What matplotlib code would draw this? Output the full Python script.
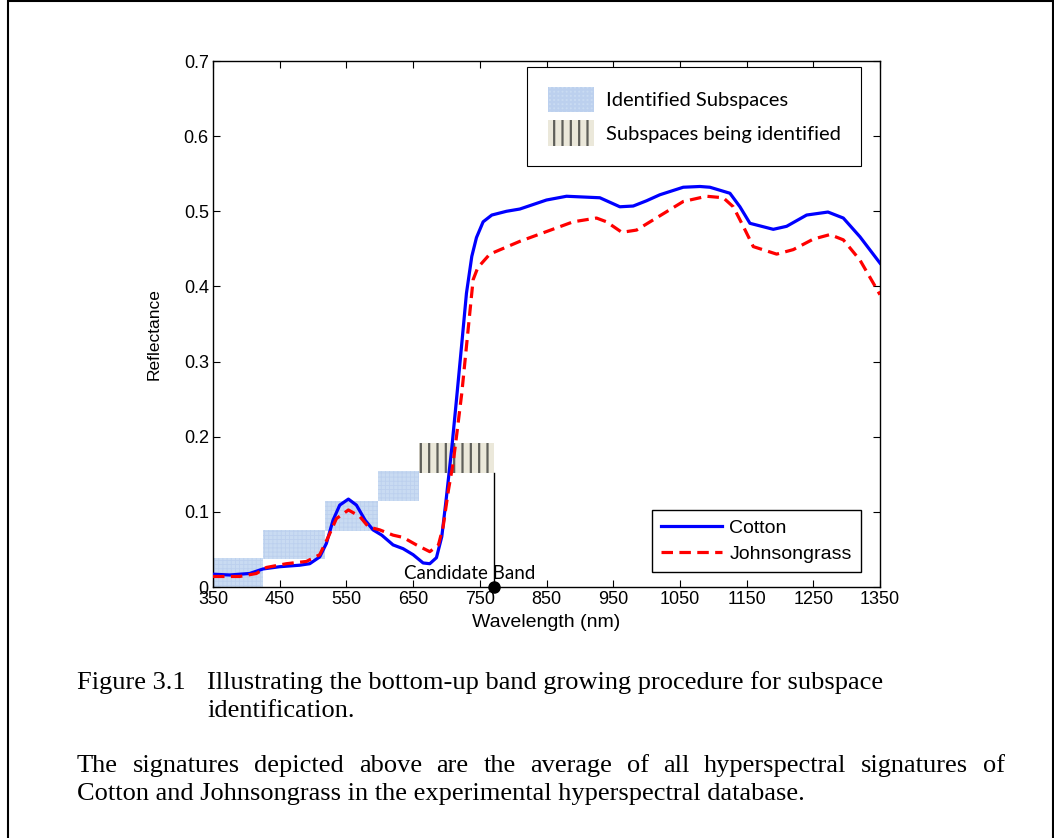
import matplotlib
matplotlib.use("Agg")
import matplotlib.pyplot as plt
from matplotlib.patches import Rectangle
import numpy as np

# spectral signatures
cotton_nm = [350, 375, 405, 425, 450, 480, 495, 510, 520, 530, 540, 553, 565, 578, 590,
             603, 620, 635, 650, 665, 675, 685, 693, 700, 708, 715, 723, 730, 738, 745,
             755, 768, 790, 810, 820, 850, 880, 930, 960, 980, 1000, 1020, 1055, 1080,
             1095, 1125, 1140, 1155, 1190, 1210, 1240, 1272, 1295, 1320, 1350]
cotton = [0.017, 0.016, 0.018, 0.024, 0.027, 0.029, 0.031, 0.040, 0.058, 0.089, 0.109,
          0.117, 0.109, 0.089, 0.076, 0.069, 0.056, 0.051, 0.043, 0.032, 0.031, 0.039,
          0.067, 0.120, 0.185, 0.249, 0.324, 0.391, 0.440, 0.465, 0.486, 0.495, 0.500,
          0.503, 0.506, 0.515, 0.520, 0.518, 0.506, 0.507, 0.514, 0.522, 0.532, 0.533,
          0.532, 0.524, 0.506, 0.484, 0.476, 0.480, 0.495, 0.499, 0.491, 0.466, 0.431]

johnson_nm = [350, 390, 415, 430, 460, 490, 510, 523, 535, 553, 570, 583, 600, 620, 635,
              655, 675, 688, 695, 703, 710, 715, 723, 733, 740, 747, 753, 765, 810, 850,
              890, 925, 940, 963, 985, 1020, 1055, 1090, 1115, 1130, 1145, 1160, 1195,
              1220, 1250, 1275, 1295, 1320, 1350]
johnson = [0.014, 0.014, 0.018, 0.026, 0.031, 0.034, 0.043, 0.067, 0.091, 0.1025, 0.094,
           0.080, 0.076, 0.069, 0.066, 0.056, 0.047, 0.056, 0.080, 0.129, 0.165, 0.200,
           0.258, 0.347, 0.409, 0.425, 0.431, 0.443, 0.460, 0.473, 0.486, 0.491, 0.486,
           0.472, 0.475, 0.494, 0.513, 0.520, 0.518, 0.506, 0.480, 0.453, 0.443, 0.449,
           0.463, 0.469, 0.462, 0.435, 0.389]

# subspaces: (start nm, end nm, low, high)
identified = [(350, 425, 0.0, 0.039), (425, 518, 0.037, 0.076),
              (518, 597, 0.075, 0.115), (597, 659, 0.115, 0.154)]
being_identified = (659, 772, 0.152, 0.191)
candidate_nm = 772

xticks = list(range(350, 1351, 100))
yticks = [0, 0.1, 0.2, 0.3, 0.4, 0.5, 0.6, 0.7]
ytick_labels = ["0", "0.1", "0.2", "0.3", "0.4", "0.5", "0.6", "0.7"]

fig_label = "Figure 3.1"
caption1 = "Illustrating the bottom-up band growing procedure for subspace"
caption2 = "identification."
para1 = "The signatures depicted above are the average of all hyperspectral signatures of"
para2 = "Cotton and Johnsongrass in the experimental hyperspectral database."

plt.rcParams["font.family"] = ["Liberation Sans", "DejaVu Sans"]
plt.rcParams["hatch.linewidth"] = 1.6

W, H = 1054, 838
fig = plt.figure(figsize=(W / 100, H / 100), dpi=100)
ax = fig.add_axes([213 / W, 1 - 587 / H, 667 / W, 526 / H])

blue_fc = "#c9dbf2"
blue_hc = "#bcd0ee"
stripe_fc = "#ebe8da"
stripe_hc = "#5f5f5a"


def blue_patch(xy, w, h, **kw):
    p = Rectangle(xy, w, h, facecolor=blue_fc, edgecolor=blue_hc, hatch="++++", lw=0, **kw)
    if hasattr(p, "set_hatch_linewidth"):
        p.set_hatch_linewidth(0.6)
    return p


def stripe_patch(xy, w, h, **kw):
    p = Rectangle(xy, w, h, facecolor=stripe_fc, edgecolor=stripe_hc, hatch="||", lw=0, **kw)
    if hasattr(p, "set_hatch_linewidth"):
        p.set_hatch_linewidth(1.6)
    return p


for x0, x1, y0, y1 in identified:
    ax.add_patch(blue_patch((x0, y0), x1 - x0, y1 - y0, zorder=1))
x0, x1, y0, y1 = being_identified
ax.add_patch(stripe_patch((x0, y0), x1 - x0, y1 - y0, zorder=1))

ax.plot([candidate_nm, candidate_nm], [0, y0], color="black", lw=1, zorder=2)
ax.plot([candidate_nm], [0], "o", color="black", ms=8, clip_on=False, zorder=5)
ax.text(735, 0.011, "Candidate Band", family=["Lato", "DejaVu Sans"], fontsize=13.5,
        ha="center", va="baseline", zorder=4)

l1, = ax.plot(cotton_nm, cotton, color="#0000ff", lw=2.3, zorder=3)
l2, = ax.plot(johnson_nm, johnson, color="#ff0000", lw=2.3, ls=(0, (3.6, 2.0)), zorder=3)

ax.set_xlim(350, 1350)
ax.set_ylim(0, 0.7)
ax.set_xticks(xticks)
ax.set_yticks(yticks)
ax.set_yticklabels(ytick_labels)
ax.tick_params(direction="in", length=5, width=0.8, top=True, right=True,
               labelsize=13, pad=3)
for sp in ax.spines.values():
    sp.set_linewidth(1)
ax.set_xlabel("Wavelength (nm)", fontsize=14, labelpad=4)
ax.set_ylabel("Reflectance", fontsize=12.5)
ax.yaxis.set_label_coords(-0.0765, 0.481)

h1 = blue_patch((0, 0), 1, 1)
h2 = stripe_patch((0, 0), 1, 1)
leg1 = ax.legend([h1, h2], ["Identified Subspaces", "Subspaces being identified"],
                 loc="upper right", bbox_to_anchor=(0.9715, 0.9886), borderaxespad=0,
                 prop={"family": ["Lato", "DejaVu Sans"], "size": 14.5},
                 handlelength=2.3, handleheight=1.55, handletextpad=0.6,
                 labelspacing=0.4, borderpad=1.0, fancybox=False, framealpha=1,
                 edgecolor="black")
leg1.get_frame().set_linewidth(0.8)
ax.add_artist(leg1)

leg2 = ax.legend([l1, l2], ["Cotton", "Johnsongrass"], loc="lower right",
                 bbox_to_anchor=(0.9715, 0.0285), borderaxespad=0, fontsize=14,
                 handlelength=3.1, handletextpad=0.4, labelspacing=0.42,
                 borderpad=0.48, fancybox=False, framealpha=1, edgecolor="black")
leg2.get_frame().set_linewidth(1)

# page frame
fig.add_artist(Rectangle((8 / W, -0.05), (1053 - 8) / W, 1.05 - 1 / H,
                         transform=fig.transFigure, fill=False, edgecolor="black",
                         lw=1.5))

serif = {"family": ["Liberation Serif", "DejaVu Serif"], "fontsize": 19}
fig.text(77 / W, 1 - 689 / H, fig_label, va="baseline", **serif)
fig.text(207 / W, 1 - 689 / H, caption1, va="baseline", **serif)
fig.text(207 / W, 1 - 717 / H, caption2, va="baseline", **serif)

# justified first line of the paragraph
renderer = fig.canvas.get_renderer()
words = para1.split()
left, right = 77, 1005
widths = []
for w in words:
    t = fig.text(0, 0, w, **serif)
    widths.append(t.get_window_extent(renderer).width)
    t.remove()
gap = (right - left - sum(widths)) / (len(words) - 1)
xpos = left
for w, wd in zip(words, widths):
    fig.text(xpos / W, 1 - 772 / H, w, va="baseline", **serif)
    xpos += wd + gap
fig.text(77 / W, 1 - 800 / H, para2, va="baseline", **serif)

fig.savefig("out.png", dpi=100)
